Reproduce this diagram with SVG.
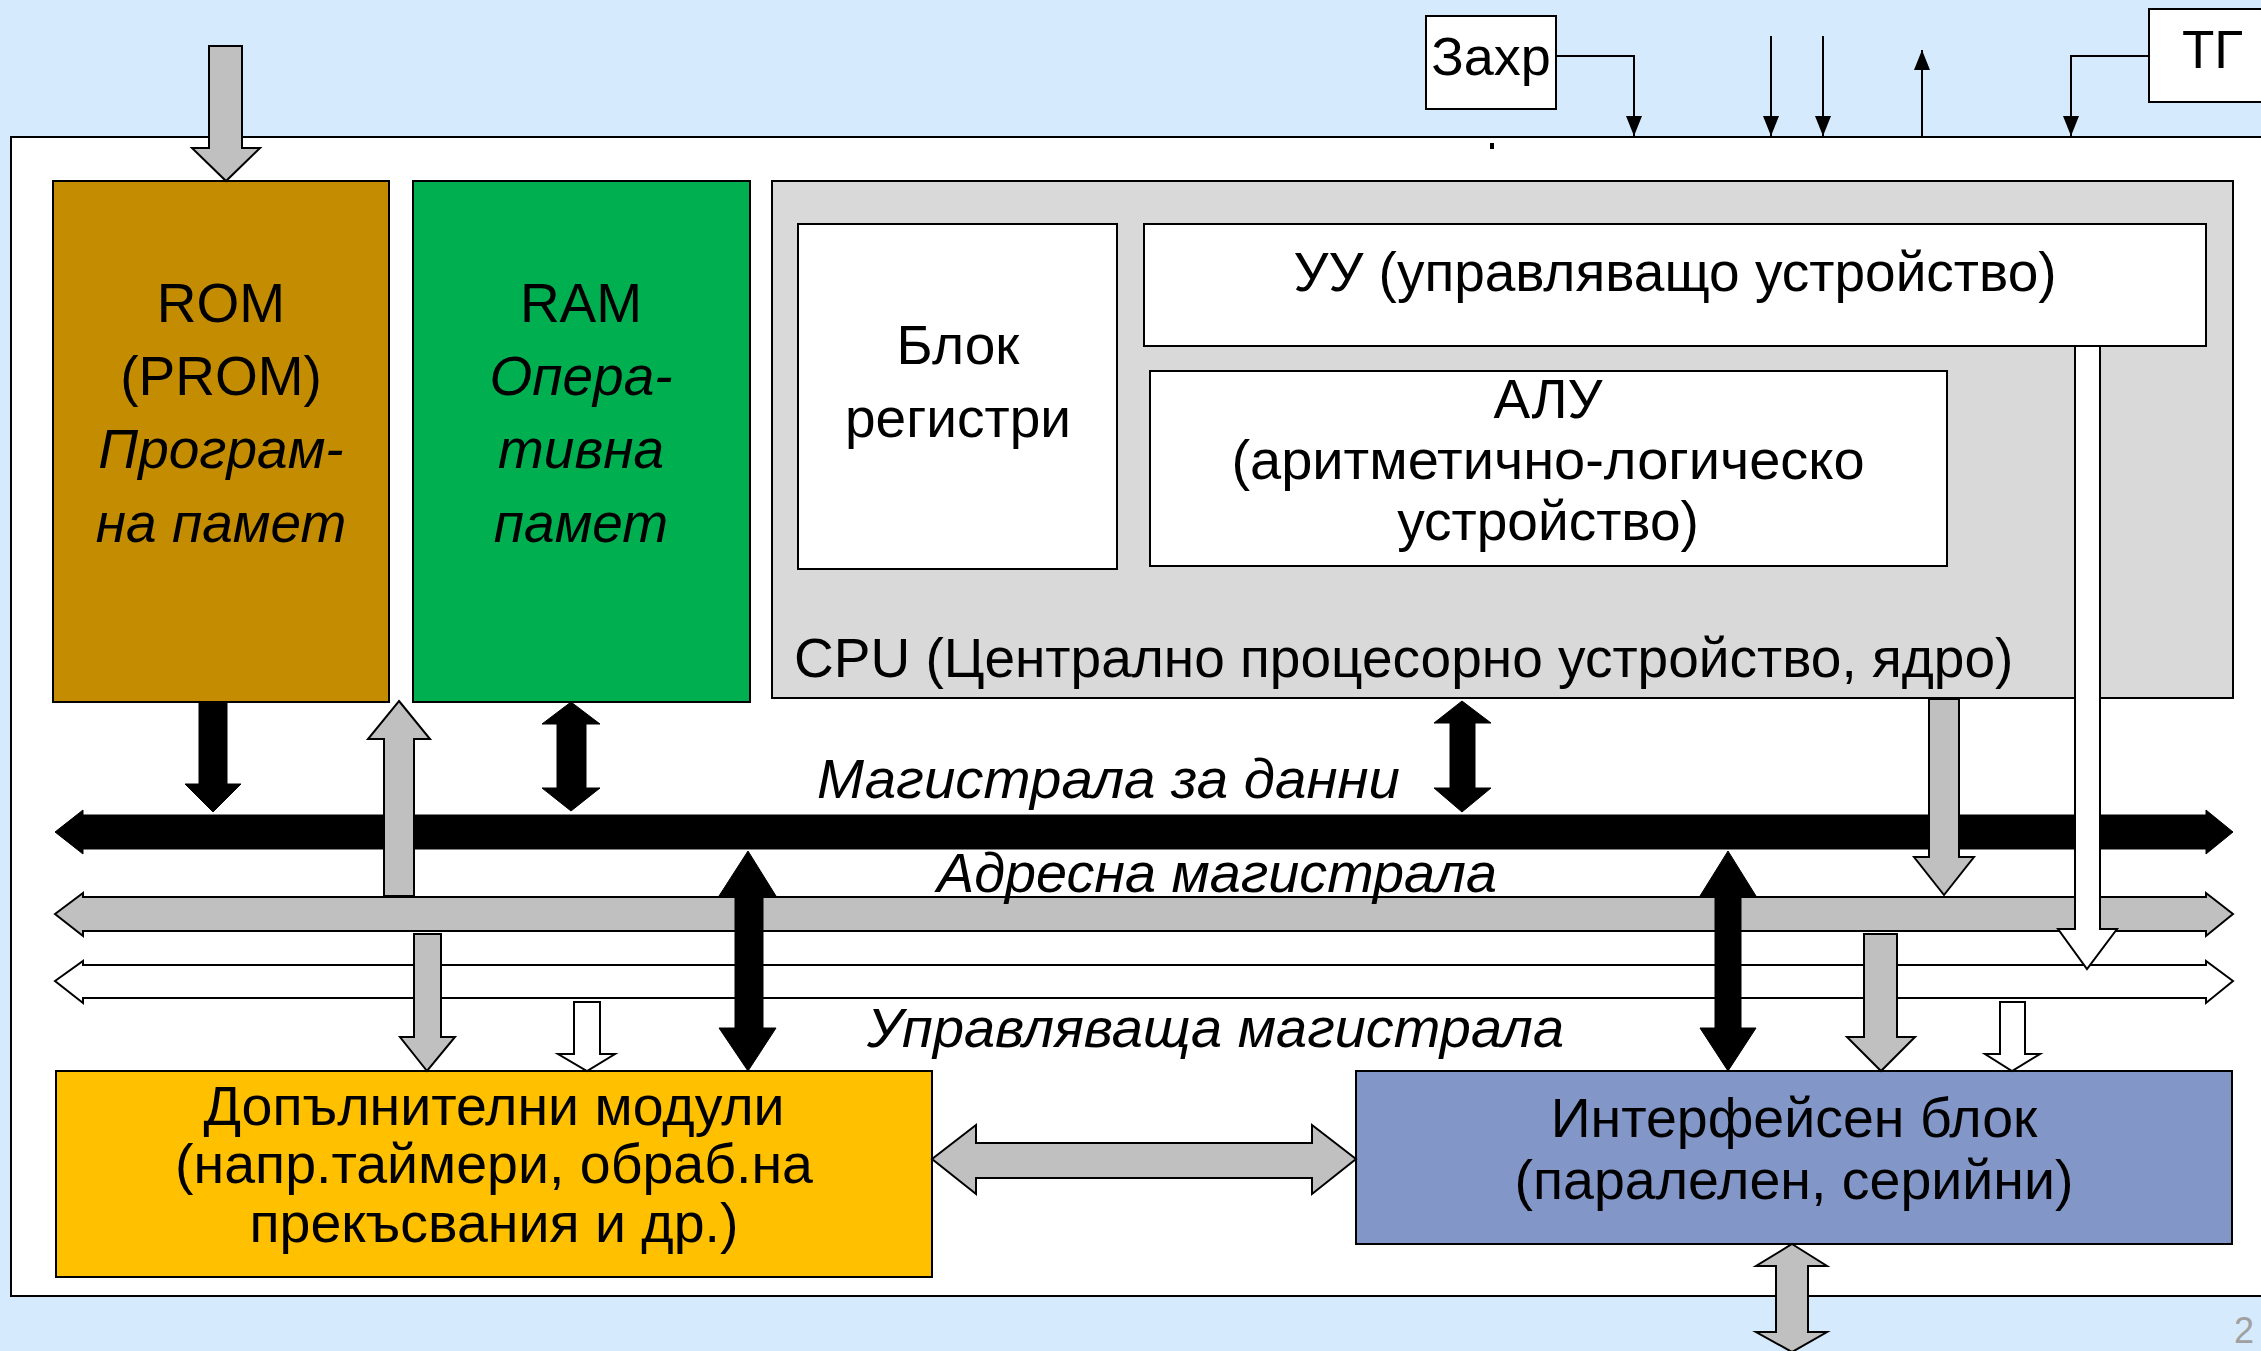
<svg xmlns="http://www.w3.org/2000/svg" width="2261" height="1351" viewBox="0 0 2261 1351">
<style>
.t{font-family:"Liberation Sans",Arial,sans-serif;font-size:55px;fill:#000}
.i{font-style:italic}
.m{text-anchor:middle}
.box{stroke:#000;stroke-width:2}
.blk{fill:#000;stroke:#000;stroke-width:1}
.gry{fill:#C0C0C0;stroke:#000;stroke-width:2}
.wht{fill:#FFF;stroke:#000;stroke-width:2}
.ln{fill:none;stroke:#000;stroke-width:2}
.b{font-size:55.5px}
</style>
<defs>
<marker id="ah" markerUnits="userSpaceOnUse" viewBox="0 0 20 16" markerWidth="20" markerHeight="16" refX="20" refY="8" orient="auto">
<path d="M0,0 L20,8 L0,16 Z" fill="#000"/>
</marker>
</defs>
<rect x="0" y="0" width="2261" height="1351" fill="#D5EAFC"/>
<rect id="board" x="11" y="137" width="2300" height="1159" fill="#FFF" stroke="#000" stroke-width="2"/>
<rect x="1490" y="143" width="4" height="6" fill="#000"/>
<text class="t" x="2234" y="1343" style="font-size:36px;fill:#A0A0A0">2</text>

<g id="rom">
<rect class="box" x="53" y="181" width="336" height="521" fill="#C48C00"/>
<text class="t m" x="221" y="322">ROM</text>
<text class="t m" x="221" y="395">(PROM)</text>
<text class="t m i" x="221" y="468">Програм-</text>
<text class="t m i" x="221" y="542">на памет</text>
</g>

<g id="ram">
<rect class="box" x="413" y="181" width="337" height="521" fill="#00B050"/>
<text class="t m" x="581" y="322">RAM</text>
<text class="t m i" x="581" y="395">Опера-</text>
<text class="t m i" x="581" y="468">тивна</text>
<text class="t m i" x="581" y="542">памет</text>
</g>

<g id="cpu">
<rect class="box" x="772" y="181" width="1461" height="517" fill="#D9D9D9"/>
<text class="t" x="794" y="677">CPU (Централно процесорно устройство, ядро)</text>
<g id="registers">
<rect class="box" x="798" y="224" width="319" height="345" fill="#FFF"/>
<text class="t m" x="958" y="364">Блок</text>
<text class="t m" x="958" y="437">регистри</text>
</g>
<g id="cu">
<rect class="box" x="1144" y="224" width="1062" height="122" fill="#FFF"/>
<text class="t m" x="1675" y="291">УУ (управляващо устройство)</text>
</g>
<g id="alu">
<rect class="box" x="1150" y="371" width="797" height="195" fill="#FFF"/>
<text class="t m" x="1548" y="418">АЛУ</text>
<text class="t m" x="1548" y="479" style="font-size:56px">(аритметично-логическо</text>
<text class="t m" x="1548" y="540">устройство)</text>
</g>
</g>

<g id="modules">
<rect class="box" x="56" y="1071" width="876" height="206" fill="#FFC000"/>
<text class="t m b" x="494" y="1125">Допълнителни модули</text>
<text class="t m b" x="494" y="1183">(напр.таймери, обраб.на</text>
<text class="t m b" x="494" y="1242">прекъсвания и др.)</text>
</g>

<g id="interface">
<rect class="box" x="1356" y="1071" width="876" height="173" fill="#8396C8"/>
<text class="t m b" x="1794" y="1137">Интерфейсен блок</text>
<text class="t m b" x="1794" y="1199">(паралелен, серийни)</text>
</g>

<g id="zahr">
<rect class="box" x="1426" y="16" width="130" height="93" fill="#FFF"/>
<text class="t m" x="1491" y="75" style="font-size:54px">Захр</text>
</g>

<g id="tg">
<rect class="box" x="2149" y="9" width="140" height="93" fill="#FFF"/>
<text class="t" x="2182" y="68" style="font-size:53px">ТГ</text>
</g>

<g id="connectors">
<polygon class="gry" points="209,46 242,46 242,148 260,148 226,181 192,148 209,148"/>
<polyline class="ln" points="1556,56 1634,56 1634,136" marker-end="url(#ah)"/>
<line class="ln" x1="1771" y1="36" x2="1771" y2="136" marker-end="url(#ah)"/>
<line class="ln" x1="1823" y1="36" x2="1823" y2="136" marker-end="url(#ah)"/>
<line class="ln" x1="1922" y1="137" x2="1922" y2="50" marker-end="url(#ah)"/>
<polyline class="ln" points="2149,56 2071,56 2071,136" marker-end="url(#ah)"/>

<polygon class="blk" points="55,832 83,810 83,815 2206,815 2206,810 2233,832 2206,854 2206,849 83,849 83,854"/>
<polygon class="gry" points="55,914 83,893 83,897 2206,897 2206,893 2233,914 2206,936 2206,931 83,931 83,936"/>
<polygon class="wht" points="55,981 83,961 83,965 2206,965 2206,961 2233,981 2206,1003 2206,998 83,998 83,1003"/>

<polygon class="blk" points="199,702 227,702 227,784 241,784 213,812 185,784 199,784"/>
<polygon class="gry" points="399,701 430,739 414,739 414,896 384,896 384,739 368,739"/>
<polygon class="blk" points="571,702 600,724 586,724 586,788 600,788 571,811 542,788 557,788 557,724 542,724"/>
<polygon class="blk" points="1462,701 1491,723 1475,723 1475,788 1491,788 1462,812 1434,788 1450,788 1450,723 1434,723"/>
<polygon class="gry" points="1929,699 1959,699 1959,857 1974,857 1944,895 1914,857 1929,857"/>
<polygon class="wht" points="2075,346 2100,346 2100,929 2117,929 2087,969 2058,929 2075,929"/>

<polygon class="blk" points="748,851 776,896 763,896 763,1028 776,1028 748,1071 719,1028 735,1028 735,896 719,896"/>
<polygon class="blk" points="1728,851 1756,896 1741,896 1741,1028 1756,1028 1728,1071 1700,1028 1715,1028 1715,896 1700,896"/>
<polygon class="gry" points="414,934 441,934 441,1037 455,1037 427,1071 400,1037 414,1037"/>
<polygon class="wht" points="574,1002 600,1002 600,1054 615,1054 587,1071 558,1054 574,1054"/>
<polygon class="gry" points="1864,934 1897,934 1897,1037 1915,1037 1881,1071 1847,1037 1864,1037"/>
<polygon class="wht" points="2000,1002 2025,1002 2025,1054 2040,1054 2012,1071 1985,1054 2000,1054"/>
<polygon class="gry" points="932,1159 976,1125 976,1143 1312,1143 1312,1125 1356,1159 1312,1194 1312,1178 976,1178 976,1194"/>
<polygon class="gry" points="1792,1244 1827,1266 1808,1266 1808,1332 1827,1332 1792,1352 1756,1332 1776,1332 1776,1266 1756,1266"/>
</g>

<g id="bus-labels">
<text class="t i" x="817" y="798" textLength="583" lengthAdjust="spacingAndGlyphs">Магистрала за данни</text>
<text class="t i" x="937" y="892" textLength="560" lengthAdjust="spacingAndGlyphs">Адресна магистрала</text>
<text class="t i" x="867" y="1047" textLength="697" lengthAdjust="spacingAndGlyphs">Управляваща магистрала</text>
</g>
</svg>
